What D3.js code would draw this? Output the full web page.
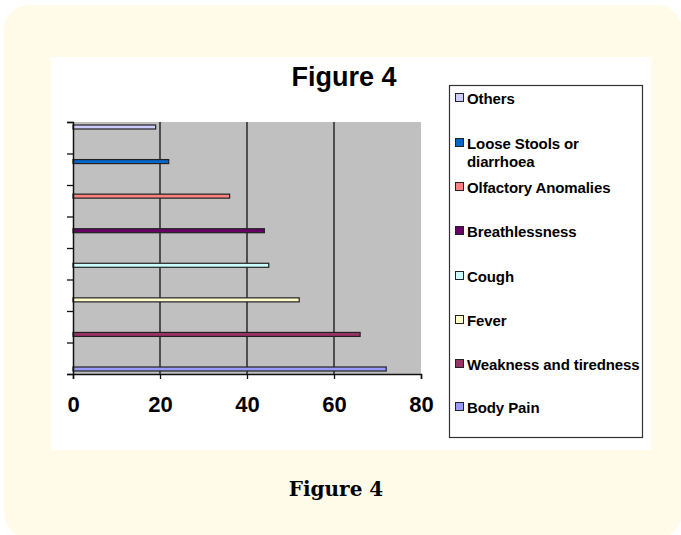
<!DOCTYPE html>
<html>
<head>
<meta charset="utf-8">
<script src="https://cdn.jsdelivr.net/npm/d3@7/dist/d3.min.js"></script>
<style>
  html, body { margin: 0; padding: 0; background: #ffffff; }
  svg { display: block; }
</style>
</head>
<body>
<script>
// Symptom series, top to bottom as drawn
const symptoms = ["Others", "Loose Stools or diarrhoea", "Olfactory Anomalies", "Breathlessness",
                  "Cough", "Fever", "Weakness and tiredness", "Body Pain"];
const values = [19, 22, 36, 44, 45, 52, 66, 72];
const colors = ["#ccccff", "#0066cc", "#ff8080", "#660066", "#ccffff", "#ffffcc", "#993366", "#9999ff"];
const legendLines = [["Others"], ["Loose Stools or", "diarrhoea"], ["Olfactory Anomalies"], ["Breathlessness"],
                     ["Cough"], ["Fever"], ["Weakness and tiredness"], ["Body Pain"]];
const xTicks = [0, 20, 40, 60, 80];
const yTickCount = 8;

const W = 681, H = 535;
const svg = d3.select("body").append("svg").attr("width", W).attr("height", H);

// cream card
svg.append("rect").attr("x", 4).attr("y", 5).attr("width", 678).attr("height", 533)
  .attr("rx", 25).attr("fill", "#fffbe8");

// white chart sheet
svg.append("rect").attr("x", 51).attr("y", 57).attr("width", 600).attr("height", 393).attr("fill", "#ffffff");

// title
svg.append("text").attr("x", 344).attr("y", 86).attr("text-anchor", "middle")
  .attr("font-family", "Liberation Sans, Arial, sans-serif").attr("font-weight", "bold")
  .attr("font-size", 27).attr("fill", "#000").text("Figure 4");

const plot = { left: 73, right: 421, top: 122, bottom: 374 };

const x = d3.scaleLinear().domain([0, 80]).range([plot.left, plot.right]);
const y = d3.scalePoint().domain(symptoms).range([127, 369]);
const yTick = d3.scaleLinear().domain([0, yTickCount]).range([plot.top, plot.bottom]);

// plot area
svg.append("rect").attr("x", plot.left).attr("y", plot.top)
  .attr("width", plot.right - plot.left).attr("height", plot.bottom - plot.top).attr("fill", "#c0c0c0");

// vertical gridlines
svg.append("g").selectAll("line").data(xTicks.filter(d => d > 0 && d < 80)).join("line")
  .attr("x1", d => x(d)).attr("x2", d => x(d)).attr("y1", plot.top).attr("y2", plot.bottom)
  .attr("stroke", "#111").attr("stroke-width", 1.3);

// bars
const barH = 4;
svg.append("g").selectAll("rect").data(symptoms).join("rect")
  .attr("x", x(0)).attr("y", d => y(d) - barH / 2)
  .attr("width", (d, i) => x(values[i]) - x(0)).attr("height", barH)
  .attr("fill", (d, i) => colors[i]).attr("stroke", "#222").attr("stroke-width", 1.2);

// x axis
const xAxis = svg.append("g").attr("transform", `translate(0,${plot.bottom})`)
  .call(d3.axisBottom(x).tickValues(xTicks).tickSize(5).tickPadding(17));
xAxis.select(".domain").attr("stroke", "#111").attr("stroke-width", 1.5);
xAxis.selectAll(".tick line").attr("stroke", "#111").attr("stroke-width", 1.3);
xAxis.selectAll("text").attr("font-family", "Liberation Sans, Arial, sans-serif")
  .attr("font-weight", "bold").attr("font-size", 22).attr("fill", "#000");

// y axis (ticks only)
const yAxis = svg.append("g").attr("transform", `translate(${plot.left},0)`)
  .call(d3.axisLeft(yTick).ticks(yTickCount).tickSize(6).tickFormat(""));
yAxis.select(".domain").attr("stroke", "#111").attr("stroke-width", 1.5);
yAxis.selectAll(".tick line").attr("stroke", "#111").attr("stroke-width", 1.3);

// legend
svg.append("rect").attr("x", 449.5).attr("y", 85.5).attr("width", 193).attr("height", 352)
  .attr("fill", "#fff").attr("stroke", "#333").attr("stroke-width", 1.2);
const legendY = [98, 143, 187, 231, 276, 320, 364, 407];
const lg = svg.append("g").selectAll("g").data(symptoms).join("g")
  .attr("transform", (d, i) => `translate(455,${legendY[i]})`);
lg.append("rect").attr("x", 0.5).attr("y", -4.5).attr("width", 8).attr("height", 8)
  .attr("fill", (d, i) => colors[i]).attr("stroke", "#222").attr("stroke-width", 1);
lg.append("text").attr("x", 12).attr("y", 5.5)
  .attr("font-family", "Liberation Sans, Arial, sans-serif").attr("font-weight", "bold")
  .attr("font-size", 15).attr("letter-spacing", -0.1).attr("fill", "#000")
  .selectAll("tspan").data((d, i) => legendLines[i]).join("tspan")
  .attr("x", 12).attr("dy", (d, j) => j === 0 ? 0 : 18).text(d => d);

// caption
svg.append("text").attr("x", 336).attr("y", 496).attr("text-anchor", "middle")
  .attr("font-family", "DejaVu Serif, serif").attr("font-weight", "bold")
  .attr("font-size", 20).attr("fill", "#000").text("Figure 4");
</script>
</body>
</html>
